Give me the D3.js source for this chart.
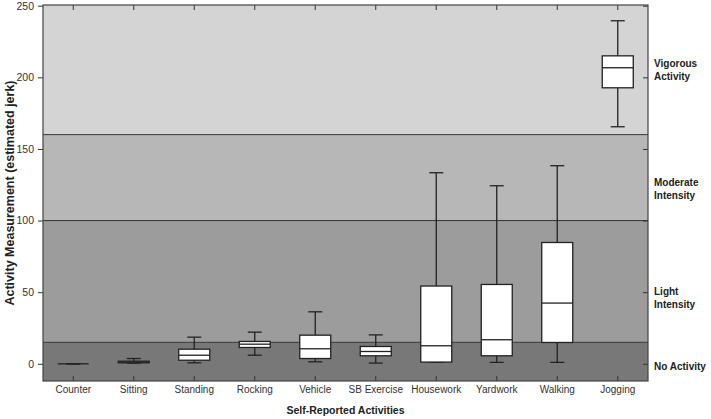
<!DOCTYPE html>
<html>
<head>
<meta charset="utf-8">
<script src="https://cdn.jsdelivr.net/npm/d3@7"></script>
<style>
  body { margin: 0; background: #fff; }
  text { font-family: "Liberation Sans", Arial, sans-serif; }
</style>
</head>
<body>
<svg width="711" height="419"></svg>
<script>
var categories = ['Counter', 'Sitting', 'Standing', 'Rocking', 'Vehicle', 'SB Exercise', 'Housework', 'Yardwork', 'Walking', 'Jogging'];
var whiskerLow = [0, 0.5, 0.7, 6.0, 1.4, 0.5, 1.0, 1.0, 1.0, 165.5];
var q1Values = [0, 0.7, 2.5, 11.4, 3.7, 5.6, 1.2, 5.6, 14.9, 192.7];
var medians = [0, 1.2, 6.0, 13.7, 10.5, 8.6, 12.6, 16.8, 42.4, 206.7];
var q3Values = [0, 1.8, 10.2, 15.6, 20.0, 12.1, 54.3, 55.4, 84.7, 215.0];
var whiskerHigh = [0, 3.7, 18.6, 22.1, 36.3, 20.2, 133.4, 124.3, 138.3, 239.5];

var yTicks = [0, 50, 100, 150, 200, 250];
var bandNames = [['No Activity'], ['Light', 'Intensity'], ['Moderate', 'Intensity'], ['Vigorous', 'Activity']];
var bandFrom = [-12, 15, 100, 160];
var bandTo = [15, 100, 160, 250.5];
var bandLabelAt = [-4.3, 48, 124, 207];
var bandColors = ['#787878', '#9c9c9c', '#b7b7b7', '#d4d4d4'];

var LEFT = 43, RIGHT = 648, TOP = 5, BOTTOM = 381;
var BOX_W = 31, CAP_W = 14;

var svg = d3.select('svg');

var x = d3.scaleBand().domain(categories).range([LEFT, RIGHT]).padding(0);
var y = d3.scaleLinear().domain([-12, 250.5]).range([BOTTOM, TOP]);

// intensity bands
bandFrom.forEach(function (from, i) {
  svg.append('rect')
    .attr('x', LEFT)
    .attr('width', RIGHT - LEFT)
    .attr('y', y(bandTo[i]))
    .attr('height', y(from) - y(bandTo[i]))
    .attr('fill', bandColors[i]);
  if (i > 0) {
    svg.append('line')
      .attr('x1', LEFT).attr('x2', RIGHT)
      .attr('y1', y(from)).attr('y2', y(from))
      .attr('stroke', '#333').attr('stroke-width', 1);
  }
  var t = svg.append('text')
    .attr('x', 654)
    .attr('y', y(bandLabelAt[i]))
    .style('font-size', '10px')
    .style('font-weight', 'bold')
    .attr('fill', '#222');
  bandNames[i].forEach(function (line, j) {
    t.append('tspan').attr('x', 654).attr('dy', j === 0 ? 0 : 12.5).text(line);
  });
});

// boxes
var boxes = svg.append('g');
categories.forEach(function (c, i) {
  var cx = x(c) + x.bandwidth() / 2;
  var g = boxes.append('g').attr('stroke', '#222').attr('stroke-width', 1.3);
  g.append('line')
    .attr('x1', cx).attr('x2', cx)
    .attr('y1', y(whiskerHigh[i])).attr('y2', y(whiskerLow[i]));
  [whiskerHigh[i], whiskerLow[i]].forEach(function (v) {
    g.append('line')
      .attr('x1', cx - CAP_W / 2).attr('x2', cx + CAP_W / 2)
      .attr('y1', y(v)).attr('y2', y(v));
  });
  g.append('rect')
    .attr('x', cx - BOX_W / 2)
    .attr('width', BOX_W)
    .attr('y', y(q3Values[i]))
    .attr('height', Math.max(0, y(q1Values[i]) - y(q3Values[i])))
    .attr('fill', '#fff');
  g.append('line')
    .attr('x1', cx - BOX_W / 2).attr('x2', cx + BOX_W / 2)
    .attr('y1', y(medians[i])).attr('y2', y(medians[i]));
});

// axes
function styleAxis(g) {
  g.select('.domain').remove();
  g.selectAll('line').attr('stroke', '#333');
  g.selectAll('text').style('font-size', '10px').attr('fill', '#333');
}

svg.append('g')
  .attr('transform', 'translate(' + LEFT + ',0)')
  .call(d3.axisLeft(y).tickValues(yTicks).tickSize(5).tickPadding(4))
  .call(styleAxis)
  .selectAll('text').style('font-size', '10.5px');

svg.append('g')
  .attr('transform', 'translate(' + RIGHT + ',0)')
  .call(d3.axisRight(y).tickValues(yTicks).tickSize(-5).tickFormat(''))
  .call(styleAxis);

svg.append('g')
  .attr('transform', 'translate(0,' + BOTTOM + ')')
  .call(d3.axisBottom(x).tickSize(-5).tickPadding(5))
  .call(styleAxis);

svg.append('g')
  .attr('transform', 'translate(0,' + TOP + ')')
  .call(d3.axisTop(x).tickSize(-5).tickFormat(''))
  .call(styleAxis);

svg.append('rect')
  .attr('x', LEFT).attr('y', TOP)
  .attr('width', RIGHT - LEFT).attr('height', BOTTOM - TOP)
  .attr('fill', 'none').attr('stroke', '#444').attr('stroke-width', 1.2);

svg.append('text')
  .attr('x', (LEFT + RIGHT) / 2)
  .attr('y', 414)
  .attr('text-anchor', 'middle')
  .style('font-size', '10.5px')
  .style('font-weight', 'bold')
  .attr('fill', '#222')
  .text('Self-Reported Activities');

svg.append('text')
  .attr('transform', 'translate(14,' + (TOP + BOTTOM) / 2 + ') rotate(-90)')
  .attr('text-anchor', 'middle')
  .style('font-size', '12.5px')
  .style('font-weight', 'bold')
  .attr('fill', '#222')
  .text('Activity Measurement (estimated jerk)');
</script>
</body>
</html>
